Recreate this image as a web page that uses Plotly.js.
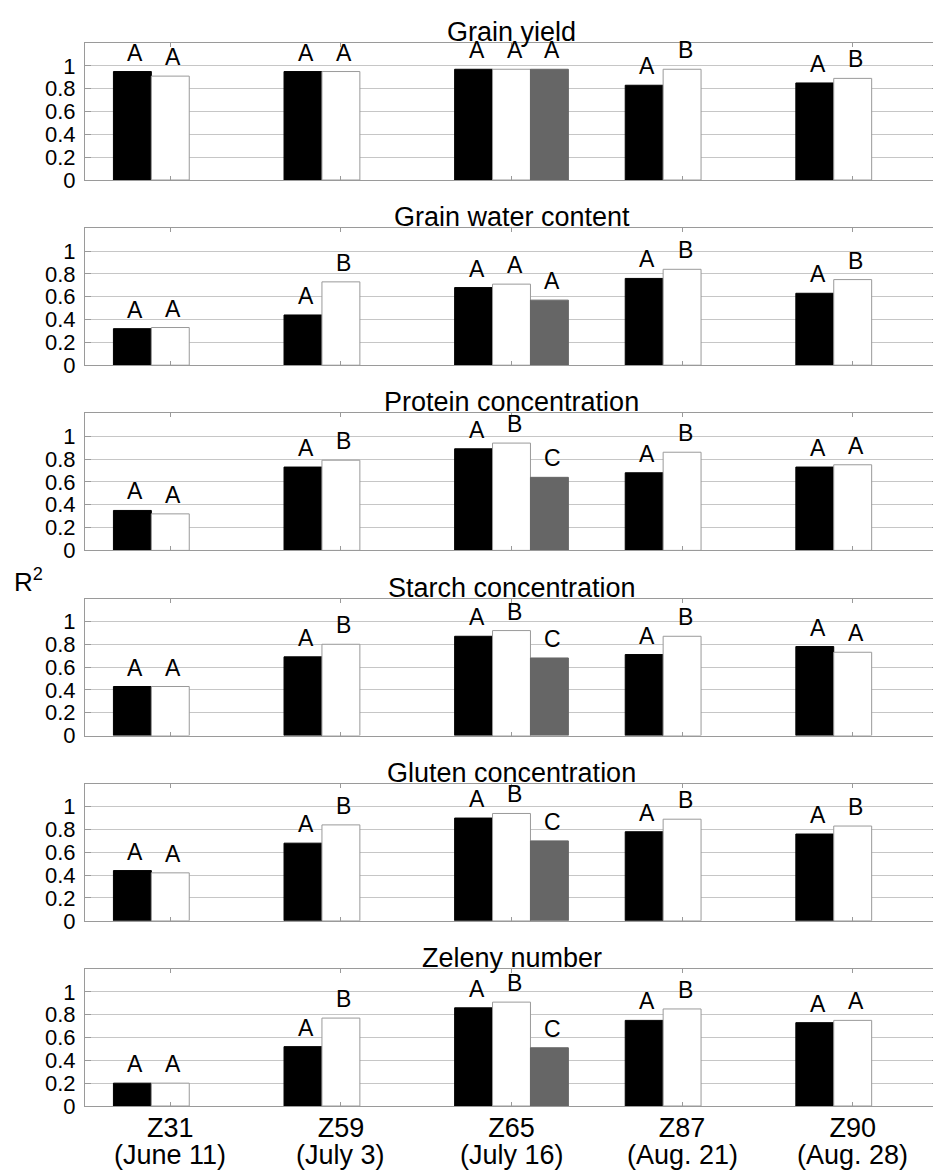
<!DOCTYPE html>
<html>
<head>
<meta charset="utf-8">
<script src="https://cdn.plot.ly/plotly-3.0.1.min.js"></script>
<style>
  html, body { margin: 0; padding: 0; overflow: hidden; background: #ffffff; }
  #chart { width: 940px; height: 1171px; }
</style>
</head>
<body>
<div id="chart"></div>
<script>
// Growth stages (x categories) and their sampling dates
const stages = ['Z31', 'Z59', 'Z65', 'Z87', 'Z90'];
const dates = ['(June 11)', '(July 3)', '(July 16)', '(Aug. 21)', '(Aug. 28)'];

// One panel per grain trait, top to bottom
const panelTitles = [
  'Grain yield',
  'Grain water content',
  'Protein concentration',
  'Starch concentration',
  'Gluten concentration',
  'Zeleny number'
];

// R² values per panel (rows) and stage (columns)
const blackR2 = [
  [0.95, 0.95, 0.97, 0.83, 0.85],
  [0.32, 0.44, 0.68, 0.76, 0.63],
  [0.35, 0.73, 0.89, 0.68, 0.73],
  [0.43, 0.69, 0.87, 0.71, 0.78],
  [0.44, 0.68, 0.90, 0.78, 0.76],
  [0.20, 0.52, 0.86, 0.75, 0.73]
];
const whiteR2 = [
  [0.91, 0.95, 0.97, 0.97, 0.89],
  [0.33, 0.73, 0.71, 0.84, 0.75],
  [0.32, 0.79, 0.94, 0.86, 0.75],
  [0.43, 0.80, 0.92, 0.87, 0.73],
  [0.42, 0.84, 0.94, 0.89, 0.83],
  [0.20, 0.77, 0.91, 0.85, 0.75]
];
// Third series exists only at Z65
const grayR2 = [0.97, 0.57, 0.64, 0.68, 0.70, 0.51];

// Significance letters above each bar
const blackLetters = [
  ['A', 'A', 'A', 'A', 'A'],
  ['A', 'A', 'A', 'A', 'A'],
  ['A', 'A', 'A', 'A', 'A'],
  ['A', 'A', 'A', 'A', 'A'],
  ['A', 'A', 'A', 'A', 'A'],
  ['A', 'A', 'A', 'A', 'A']
];
const whiteLetters = [
  ['A', 'A', 'A', 'B', 'B'],
  ['A', 'B', 'A', 'B', 'B'],
  ['A', 'B', 'B', 'B', 'A'],
  ['A', 'B', 'B', 'B', 'A'],
  ['A', 'B', 'B', 'B', 'B'],
  ['A', 'B', 'B', 'B', 'A']
];
const grayLetters = ['A', 'A', 'C', 'C', 'C', 'C'];

const yTickVals = [0, 0.2, 0.4, 0.6, 0.8, 1];
const yTickText = ['0', '0.2', '0.4', '0.6', '0.8', '1'];

// ---- layout geometry ----
const FONT = '"Liberation Sans", Arial, Helvetica, sans-serif';
const W = 940, H = 1171;
const M = { l: 85, r: 2, t: 43, b: 65 };
const plotH = H - M.t - M.b;
const panelStep = 185.2;   // pixels between panel tops
const panelH = 137;        // pixel height of each panel
const BARGAP = 1 / 3;
const barW = (1 - BARGAP) / 3;  // width of one bar in category units
const AXIS_GREY = '#9a9a9a';

const idx = stages.map((_, i) => i);
const traces = [];
const annotations = [];
const layout = {
  width: W,
  height: H,
  margin: M,
  paper_bgcolor: '#ffffff',
  plot_bgcolor: '#ffffff',
  font: { family: FONT, color: '#000000' },
  barmode: 'group',
  bargap: BARGAP,
  bargroupgap: 0,
  showlegend: false
};

const lastPanel = panelTitles.length - 1;

panelTitles.forEach((title, k) => {
  const n = k === 0 ? '' : String(k + 1);
  const top = M.t + k * panelStep;
  const bottom = top + panelH;
  const dom = [(H - M.b - bottom) / plotH, (H - M.b - top) / plotH];

  layout['xaxis' + n] = {
    domain: [0, 1],
    anchor: 'y' + n,
    range: [-0.5, 4.5],
    tickvals: idx,
    ticktext: stages,
    showticklabels: k === lastPanel,
    tickfont: { family: FONT, size: 27, color: '#000' },
    ticklabelstandoff: -2,
    showline: true,
    linecolor: AXIS_GREY,
    linewidth: 1,
    mirror: 'ticks',
    ticks: 'inside',
    ticklen: 4,
    tickcolor: AXIS_GREY,
    showgrid: false,
    zeroline: false,
    fixedrange: true
  };
  layout['yaxis' + n] = {
    domain: dom,
    anchor: 'x' + n,
    range: [0, 1.2],
    tickvals: yTickVals,
    ticktext: yTickText,
    tickfont: { family: FONT, size: 22, color: '#000' },
    ticklabelstandoff: 4,
    showgrid: true,
    gridcolor: '#c6c6c6',
    gridwidth: 1,
    showline: true,
    linecolor: AXIS_GREY,
    linewidth: 1,
    mirror: 'ticks',
    ticks: 'inside',
    ticklen: 6,
    tickcolor: AXIS_GREY,
    zeroline: false,
    fixedrange: true
  };

  const common = { type: 'bar', x: idx, xaxis: 'x' + n, yaxis: 'y' + n, hoverinfo: 'skip', showlegend: false };
  traces.push(Object.assign({}, common, {
    y: blackR2[k],
    marker: { color: '#000000', line: { color: '#000000', width: 1 } }
  }));
  traces.push(Object.assign({}, common, {
    y: whiteR2[k],
    marker: { color: '#ffffff', line: { color: AXIS_GREY, width: 1 } }
  }));
  traces.push(Object.assign({}, common, {
    y: idx.map(i => (i === 2 ? grayR2[k] : null)),
    marker: { color: '#666666', line: { color: '#666666', width: 1 } }
  }));

  // panel heading
  annotations.push({
    text: title,
    xref: 'paper', yref: 'paper',
    x: 0.5, y: dom[1],
    xanchor: 'center', yanchor: 'bottom',
    yshift: -6,
    showarrow: false,
    font: { family: FONT, size: 27, color: '#000' }
  });

  // letters over bars
  const letter = (xpos, yval, txt) => annotations.push({
    text: txt,
    xref: 'x' + n, yref: 'y' + n,
    x: xpos, y: yval,
    xanchor: 'center', yanchor: 'bottom',
    xshift: 3, yshift: 4,
    showarrow: false,
    font: { family: FONT, size: 23, color: '#000' }
  });
  idx.forEach(i => {
    letter(i - barW, blackR2[k][i], blackLetters[k][i]);
    letter(i, whiteR2[k][i], whiteLetters[k][i]);
  });
  letter(2 + barW, grayR2[k], grayLetters[k]);
});

// sampling dates as a second line under the stage labels
const lastX = 'x' + (lastPanel + 1);
dates.forEach((d, i) => annotations.push({
  text: d,
  xref: lastX, yref: 'paper',
  x: i, y: 0,
  xanchor: 'center', yanchor: 'middle',
  yshift: -49,
  showarrow: false,
  font: { family: FONT, size: 27, color: '#000' }
}));

// shared y-axis label
annotations.push({
  text: 'R<sup>2</sup>',
  xref: 'paper', yref: 'paper',
  x: (12 - M.l) / (W - M.l - M.r), y: (H - M.b - 580) / plotH,
  xanchor: 'left', yanchor: 'middle',
  showarrow: false,
  font: { family: FONT, size: 26, color: '#000' }
});

layout.annotations = annotations;

Plotly.newPlot('chart', traces, layout, { staticPlot: true, displayModeBar: false });
</script>
</body>
</html>
